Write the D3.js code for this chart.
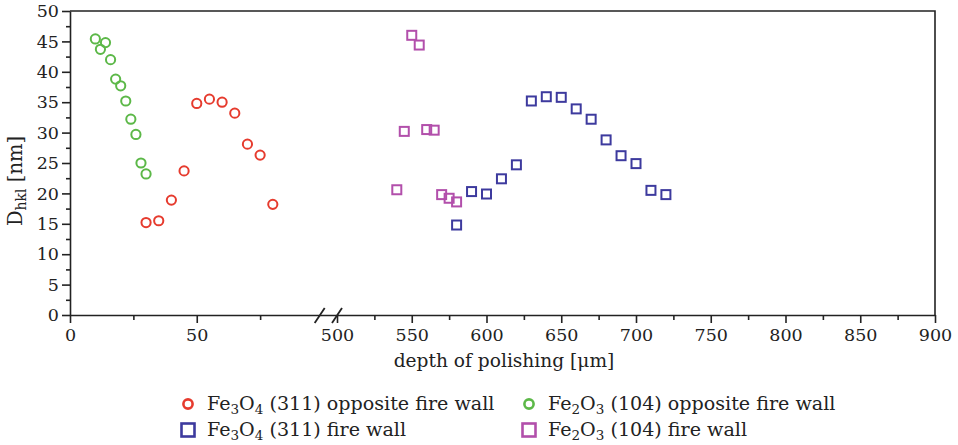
<!DOCTYPE html>
<html>
<head>
<meta charset="utf-8">
<script src="https://d3js.org/d3.v7.min.js"></script>
<style>
    body { margin: 0; background: #fff; }
    text { font-family: "DejaVu Serif", serif; fill: #222; }
    .axis path, .axis line { stroke: #222; stroke-width: 1.6px; }
    .axis text { font-size: 17.5px; }
</style>
</head>
<body>
<script>
    // Fe3O4 (311) opposite fire wall
    var fe3o4OppX = [30, 35, 40, 45, 50, 55, 60, 65, 70, 75, 80];
    var fe3o4OppY = [15.2, 15.5, 18.9, 23.7, 34.8, 35.5, 35.0, 33.2, 28.1, 26.3, 18.2];
    // Fe2O3 (104) opposite fire wall
    var fe2o3OppX = [10, 12, 14, 16, 18, 20, 22, 24, 26, 28, 30];
    var fe2o3OppY = [45.4, 43.7, 44.8, 42.0, 38.8, 37.7, 35.2, 32.2, 29.7, 25.0, 23.2];
    // Fe3O4 (311) fire wall
    var fe3o4FireX = [580, 590, 600, 610, 620, 630, 640, 650, 660, 670, 680, 690, 700, 710, 720];
    var fe3o4FireY = [14.8, 20.3, 19.9, 22.4, 24.7, 35.2, 35.9, 35.8, 33.9, 32.2, 28.8, 26.2, 24.9, 20.5, 19.8];
    // Fe2O3 (104) fire wall
    var fe2o3FireX = [540, 545, 550, 555, 560, 565, 570, 575, 580];
    var fe2o3FireY = [20.6, 30.2, 46.0, 44.4, 30.5, 30.4, 19.8, 19.2, 18.6];

    var xMajor = [0, 50, 500, 550, 600, 650, 700, 750, 800, 850, 900];
    var xMinor = [25, 75, 525, 575, 625, 675, 725, 775, 825, 875];
    var yMajor = [0, 5, 10, 15, 20, 25, 30, 35, 40, 45, 50];
    var yMinor = [2.5, 7.5, 12.5, 17.5, 22.5, 27.5, 32.5, 37.5, 42.5, 47.5];

    var width = 958, height = 445;
    var svg = d3.select("body").append("svg")
        .attr("width", width)
        .attr("height", height);

    // broken axis: 0..100 on the left, 500..900 on the right
    var x = d3.scaleLinear().domain([0, 100, 500, 900]).range([70, 323.5, 337, 935]);
    var y = d3.scaleLinear().domain([0, 50]).range([315, 11]);

    // frame top + right
    svg.append("path")
        .attr("d", "M" + x(0) + "," + y(50) + "H" + x(900) + "V" + y(0))
        .attr("fill", "none")
        .attr("stroke", "#222")
        .attr("stroke-width", 1.6);

    svg.append("g").attr("class", "axis")
        .attr("transform", "translate(0," + y(0) + ")")
        .call(d3.axisBottom(x).tickValues(xMinor).tickSize(5).tickSizeOuter(0).tickFormat(""))
        .select(".domain").remove();
    svg.append("g").attr("class", "axis")
        .attr("transform", "translate(0," + y(0) + ")")
        .call(d3.axisBottom(x).tickValues(xMajor).tickSize(8).tickSizeOuter(0).tickPadding(6).tickFormat(d3.format("d")));

    svg.append("g").attr("class", "axis")
        .attr("transform", "translate(" + x(0) + ",0)")
        .call(d3.axisLeft(y).tickValues(yMinor).tickSize(4).tickSizeOuter(0).tickFormat(""))
        .select(".domain").remove();
    svg.append("g").attr("class", "axis")
        .attr("transform", "translate(" + x(0) + ",0)")
        .call(d3.axisLeft(y).tickValues(yMajor).tickSize(8).tickSizeOuter(0).tickPadding(3));

    // break marks
    [x(98.5), x(500)].forEach(function (bx) {
        svg.append("line")
            .attr("x1", bx - 5).attr("y1", y(0) + 8)
            .attr("x2", bx + 5).attr("y2", y(0) - 7)
            .attr("stroke", "#222").attr("stroke-width", 1.8);
    });

    // axis titles
    svg.append("text")
        .attr("x", 504).attr("y", 367)
        .attr("text-anchor", "middle")
        .attr("font-size", 18.6)
        .text("depth of polishing [\u03bcm]");

    var yl = svg.append("text")
        .attr("transform", "translate(22,181) rotate(-90)")
        .attr("text-anchor", "middle")
        .attr("font-size", 19.5);
    yl.append("tspan").text("D");
    yl.append("tspan").attr("font-size", 14).attr("dy", 4).text("hkl");
    yl.append("tspan").attr("dy", -4).text(" [nm]");

    var series = [
        { xs: fe3o4OppX, ys: fe3o4OppY, color: "#e63b2e", shape: "circle", name: ["Fe", "3", "O", "4", " (311) opposite fire wall"] },
        { xs: fe2o3OppX, ys: fe2o3OppY, color: "#5cb848", shape: "circle", name: ["Fe", "2", "O", "3", " (104) opposite fire wall"] },
        { xs: fe3o4FireX, ys: fe3o4FireY, color: "#3d3a9e", shape: "square", name: ["Fe", "3", "O", "4", " (311) fire wall"] },
        { xs: fe2o3FireX, ys: fe2o3FireY, color: "#b24fab", shape: "square", name: ["Fe", "2", "O", "3", " (104) fire wall"] }
    ];

    series.forEach(function (s) {
        var pts = s.xs.map(function (v, i) { return [v, s.ys[i]]; });
        var g = svg.append("g");
        if (s.shape === "circle") {
            g.selectAll("circle").data(pts).enter().append("circle")
                .attr("cx", function (d) { return x(d[0]); })
                .attr("cy", function (d) { return y(d[1]); })
                .attr("r", 4.6)
                .attr("fill", "none")
                .attr("stroke", s.color)
                .attr("stroke-width", 2);
        } else {
            g.selectAll("rect").data(pts).enter().append("rect")
                .attr("x", function (d) { return x(d[0]) - 4.5; })
                .attr("y", function (d) { return y(d[1]) - 4.5; })
                .attr("width", 9).attr("height", 9)
                .attr("fill", "none")
                .attr("stroke", s.color)
                .attr("stroke-width", 2);
        }
    });

    // legend, 2 x 2
    var legPos = [[188, 404], [529, 404], [188, 430], [529, 430]];
    series.forEach(function (s, i) {
        var lx = legPos[i][0], ly = legPos[i][1];
        if (s.shape === "circle") {
            svg.append("circle").attr("cx", lx).attr("cy", ly).attr("r", 4.6)
                .attr("fill", "none").attr("stroke", s.color).attr("stroke-width", 2.6);
        } else {
            svg.append("rect").attr("x", lx - 6.5).attr("y", ly - 6.5).attr("width", 13).attr("height", 13)
                .attr("fill", "none").attr("stroke", s.color).attr("stroke-width", 2.6);
        }
        var t = svg.append("text").attr("x", lx + 19).attr("y", ly + 6).attr("font-size", 19.1);
        t.append("tspan").text(s.name[0]);
        t.append("tspan").attr("font-size", 13.5).attr("dy", 4).text(s.name[1]);
        t.append("tspan").attr("dy", -4).text(s.name[2]);
        t.append("tspan").attr("font-size", 13.5).attr("dy", 4).text(s.name[3]);
        t.append("tspan").attr("dy", -4).text(s.name[4]);
    });
</script>
</body>
</html>
